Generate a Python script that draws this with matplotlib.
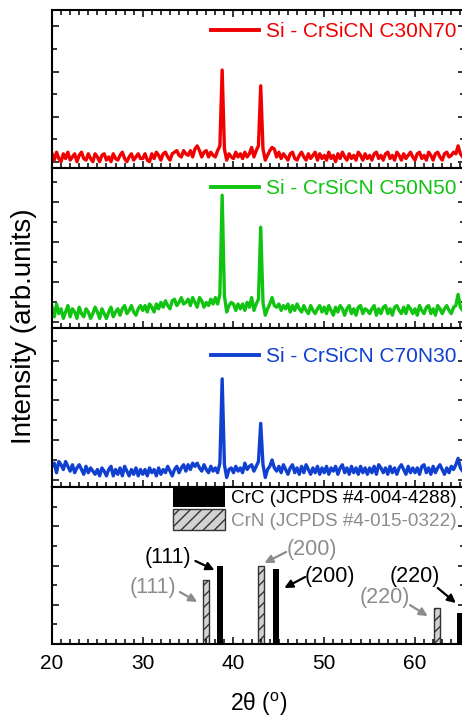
import numpy as np
import matplotlib
matplotlib.use("Agg")
import matplotlib.pyplot as plt
from matplotlib.ticker import MultipleLocator
from matplotlib.lines import Line2D

plt.rcParams['font.family'] = ['Liberation Sans', 'DejaVu Sans']
plt.rcParams['mathtext.fontset'] = 'custom'
plt.rcParams['mathtext.rm'] = 'Liberation Sans'
plt.rcParams['hatch.linewidth'] = 1.0

# scan grid, 0.25 deg step, 20 .. 65.25
two_theta = np.round(np.arange(20.0, 65.26, 0.25), 2)

# intensities (arb. units, % of panel height), rows of 5 degrees
c30n70 = [
    9, 5, 10, 6, 4, 9, 6, 10, 5, 7, 9, 4, 8, 10, 6, 5, 9, 6, 4, 9,
    7, 4, 8, 9, 5, 7, 4, 9, 6, 5, 8, 10, 6, 4, 7, 9, 5, 7, 9, 6,
    6, 9, 5, 4, 9, 6, 10, 8, 5, 9, 10, 7, 5, 9, 10, 11, 8, 7, 11, 9,
    8, 11, 7, 12, 14, 11, 7, 10, 11, 7, 10, 8, 7, 11, 14, 62, 12, 5, 9, 7,
    6, 10, 7, 9, 6, 10, 7, 9, 13, 7, 11, 14, 52, 12, 5, 8, 11, 13, 12, 7,
    10, 6, 9, 7, 5, 9, 10, 6, 5, 8, 10, 7, 5, 9, 6, 8, 10, 5, 9, 6,
    8, 5, 10, 6, 8, 4, 9, 6, 10, 7, 5, 9, 6, 8, 5, 10, 8, 5, 9, 6,
    8, 5, 9, 10, 6, 8, 5, 9, 10, 6, 8, 5, 10, 8, 5, 9, 6, 8, 10, 7,
    5, 9, 10, 6, 8, 5, 10, 8, 5, 9, 10, 7, 5, 9, 10, 7, 8, 10, 9, 14,
    9, 7,
]
c50n50 = [
    13, 7, 15, 9, 12, 6, 10, 14, 7, 12, 10, 6, 13, 9, 7, 12, 10, 6, 9, 13,
    10, 6, 12, 9, 6, 10, 13, 7, 10, 12, 8, 12, 14, 9, 11, 14, 10, 8, 12, 14,
    11, 14, 10, 15, 13, 10, 15, 12, 16, 13, 17, 14, 12, 17, 18, 14, 16, 19, 15, 16,
    18, 14, 19, 16, 13, 19, 17, 13, 16, 14, 18, 15, 19, 15, 21, 83, 20, 10, 14, 16,
    15, 11, 15, 12, 15, 11, 16, 13, 19, 11, 15, 18, 63, 16, 8, 12, 15, 19, 14, 13,
    15, 11, 14, 12, 15, 10, 14, 11, 15, 12, 10, 14, 11, 9, 14, 11, 9, 12, 14, 10,
    13, 9, 14, 11, 8, 13, 10, 14, 12, 8, 12, 14, 9, 12, 8, 13, 14, 9, 12, 11,
    9, 12, 14, 8, 12, 9, 13, 14, 9, 12, 8, 13, 14, 11, 9, 13, 9, 14, 12, 9,
    12, 8, 14, 11, 9, 13, 14, 9, 12, 8, 14, 12, 9, 12, 14, 11, 9, 13, 14, 21,
    13, 11,
]
c70n30 = [
    13, 15, 9, 16, 14, 11, 16, 13, 10, 14, 9, 12, 14, 11, 8, 13, 9, 12, 10, 8,
    11, 7, 12, 10, 7, 11, 13, 7, 11, 8, 12, 7, 13, 10, 7, 11, 8, 12, 7, 11,
    8, 11, 7, 12, 9, 11, 7, 12, 8, 11, 9, 13, 10, 7, 11, 13, 9, 12, 14, 10,
    14, 11, 15, 13, 15, 12, 10, 14, 11, 9, 13, 10, 12, 9, 15, 68, 14, 6, 11, 12,
    9, 13, 10, 12, 9, 15, 11, 13, 14, 10, 13, 16, 40, 14, 6, 11, 13, 17, 12, 10,
    13, 9, 14, 11, 8, 12, 14, 9, 12, 8, 13, 9, 14, 11, 8, 12, 9, 13, 8, 12,
    9, 13, 8, 12, 10, 13, 8, 12, 14, 9, 12, 8, 13, 9, 12, 8, 13, 9, 12, 8,
    12, 9, 13, 8, 14, 12, 9, 12, 8, 13, 9, 12, 8, 12, 14, 11, 8, 13, 9, 12,
    9, 12, 8, 13, 14, 9, 12, 8, 13, 9, 12, 14, 11, 8, 12, 9, 13, 11, 14, 18,
    12, 10,
]
series = [c30n70, c50n50, c70n30]
series_labels = ['Si - CrSiCN C30N70', 'Si - CrSiCN C50N50', 'Si - CrSiCN C70N30']
series_colors = ['#f00000', '#11c411', '#1040d0']

# reference patterns
crc_pos = [38.5, 44.7, 65.0]
crc_int = [50, 48, 20]
crn_pos = [36.95, 43.0, 62.45]
crn_int = [41, 50, 23]
crc_label = 'CrC (JCPDS #4-004-4288)'
crn_label = 'CrN (JCPDS #4-015-0322)'

# hkl annotations: text, colour, text position, arrow tail, arrow head
hkl_text = ['(111)', '(111)', '(200)', '(200)', '(220)', '(220)']
hkl_color = ['black', '#8c8c8c', '#8c8c8c', 'black', 'black', '#8c8c8c']
hkl_xy = [(32.8, 55.4), (31.1, 36.3), (48.65, 60.5), (50.6, 42.7), (60.0, 43.3), (56.7, 29.3)]
hkl_tail = [(35.8, 52.9), (34.1, 33.1), (45.8, 58.6), (47.9, 42.7), (62.5, 35.7), (59.45, 24.8)]
hkl_head = [(37.9, 47.1), (36.0, 26.8), (43.4, 51.6), (45.6, 35.7), (64.5, 26.1), (61.4, 17.8)]

grey = '#8c8c8c'

fig = plt.figure(figsize=(4.62, 7.19), dpi=100)
left, width = 52 / 462, 413 / 462
rects = [
    (551 / 719, 158 / 719),
    (391 / 719, 160 / 719),
    (232 / 719, 159 / 719),
    (75 / 719, 157 / 719),
]
axes = []
for b, h in rects:
    ax = fig.add_axes([left, b, width, h], sharex=axes[0] if axes else None)
    axes.append(ax)

# y tick layout per panel (major base, minor base, offset)
tick_cfg = [(28.6, 14.3, 3.8), (25, 12.5, 3.8), (25, 12.5, 4.5), (25, 12.5, 0.0)]
# legend anchor height per panel
leg_y = [0.925, 0.932, 0.881]

for i, ax in enumerate(axes):
    ax.set_xlim(20, 65.51)
    ax.set_ylim(0, 100)
    for s in ax.spines.values():
        s.set_linewidth(1.5)
    maj, mnr, off = tick_cfg[i]
    ax.yaxis.set_major_locator(MultipleLocator(maj, offset=off))
    ax.yaxis.set_minor_locator(MultipleLocator(mnr, offset=off))
    ax.xaxis.set_major_locator(MultipleLocator(10))
    ax.xaxis.set_minor_locator(MultipleLocator(1))
    ax.tick_params(which='both', direction='in', width=1.1, top=(i == 0), right=True,
                   labelleft=False, labelbottom=(i == 3))
    ax.tick_params(which='major', length=5)
    ax.tick_params(which='minor', length=3.5)

for ax, y, lab, col, ly in zip(axes[:3], series, series_labels, series_colors, leg_y):
    ax.plot(two_theta, y, color=col, lw=2.4)
    h = Line2D([], [], color=col, lw=2.8)
    ax.legend(handles=[h], labels=[lab], loc='upper right', frameon=False, fontsize=15,
              handlelength=2.3, handletextpad=0.33, labelcolor=col,
              borderaxespad=0.0, borderpad=0.0, bbox_to_anchor=(0.98, ly))

ax = axes[3]
ax.bar(crc_pos, crc_int, width=0.7, color='black', label=crc_label)
ax.bar(crn_pos, crn_int, width=0.7, color='#d2d2d2', edgecolor='#333333', lw=1.0,
       hatch='///', label=crn_label)
ax.legend(loc='upper right', frameon=False, fontsize=13.6, handlelength=2.75,
          handleheight=1.27, handletextpad=0.32, labelspacing=0.1,
          labelcolor=['black', grey], borderaxespad=0.0, borderpad=0.0,
          bbox_to_anchor=(0.98, 1.0))
for t, c, xy, tail, head in zip(hkl_text, hkl_color, hkl_xy, hkl_tail, hkl_head):
    ax.text(xy[0], xy[1], t, color=c, fontsize=15.5, ha='center', va='center')
    ax.annotate('', xy=head, xytext=tail,
                arrowprops=dict(arrowstyle='-|>', color=c, lw=1.6, mutation_scale=12,
                                shrinkA=0, shrinkB=0))

ax.tick_params(axis='x', labelsize=15, pad=7)
ax.set_xlabel('2θ ($^{\\mathrm{o}}$)', fontsize=16.5, labelpad=13)

fig.text(0.052, 0.547, 'Intensity (arb.units)', rotation=90, fontsize=20,
         ha='center', va='center')

fig.savefig('out.png', dpi=100)
